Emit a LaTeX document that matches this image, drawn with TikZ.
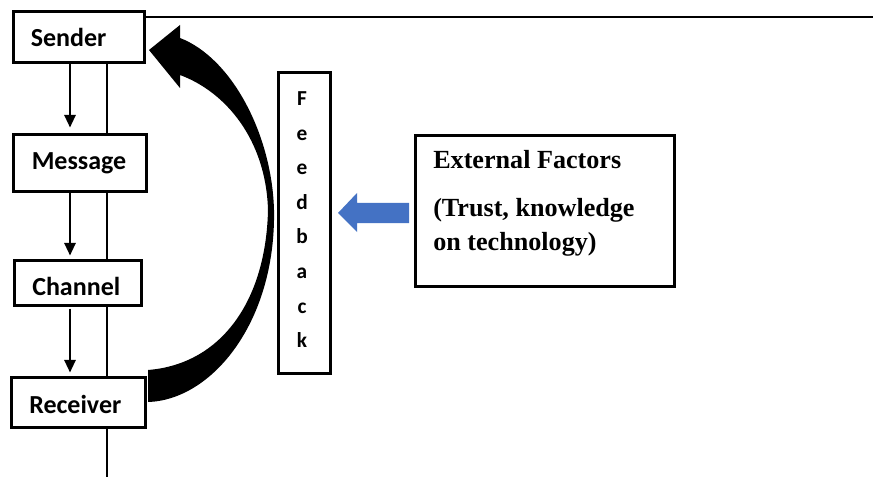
\documentclass[tikz,border=0pt]{standalone}
\usepackage{fontspec}
\newfontfamily\calfont{Carlito}
\newfontfamily\serfont{Liberation Serif}
\usetikzlibrary{arrows.meta}
\newdimen\px \px=0.75pt
\definecolor{arrowblue}{HTML}{4472C4}
\tikzset{
  box/.style={draw=black, line width=2.25pt, fill=white, inner sep=0pt, outer sep=0pt},
  lbl/.style={font=\calfont\bfseries\fontsize{19.5pt}{23pt}\selectfont, inner sep=0pt, anchor=base west},
  fbl/.style={font=\calfont\bfseries\fontsize{16pt}{19pt}\selectfont, inner sep=0pt, anchor=base},
  ext/.style={font=\serfont\bfseries\fontsize{19.6pt}{23pt}\selectfont, inner sep=0pt, anchor=base west},
  flow/.style={line width=1.5pt, -{Triangle[length=9.5pt,width=8.5pt]}},
  thinline/.style={line width=0.8pt}
}
\begin{document}
\begin{tikzpicture}[x=0.75pt, y=-0.75pt]
\useasboundingbox (0,0) rectangle (873,477);
\fill[white] (0,0) rectangle (873,477);
% guide coordinates
\coordinate (ax) at (70,0);
\coordinate (vbot) at (107,477);
\coordinate (topend) at (873,17);
\coordinate (sendtop) at (107,64);
% vertical line behind boxes
\draw[thinline] (sendtop) -- (vbot);
% boxes
\node[box, minimum width=131\px, minimum height=51\px] (sender) at (79,37) {};
\node[box, minimum width=133\px, minimum height=57\px] (message) at (80,163) {};
\node[box, minimum width=127\px, minimum height=45\px] (channel) at (78,283) {};
\node[box, minimum width=134\px, minimum height=50\px] (receiver) at (78.5,402.5) {};
\node[box, minimum width=52\px, minimum height=301\px] (feedback) at (304.5,223) {};
\node[box, minimum width=259\px, minimum height=151\px] (external) at (545,211) {};
% top line
\draw[thinline] (sender.east |- topend) -- (topend);
% labels
\node[lbl] (tsender) at (30.5,47) {Sender};
\node[lbl] (tmessage) at (31.5,170) {Message};
\node[lbl] (tchannel) at (32,295) {Channel};
\node[lbl] (treceiver) at (29,413) {Receiver};
\foreach \l [count=\i] in {F,e,e,d,b,a,c,k}{
  \node[fbl] (fb\i) at (302,{105.5+34.6*(\i-1)}) {\l};
}
\node[ext] (e1) at (433,169) {External Factors};
\node[ext] (e2) at (433,217) {(Trust, knowledge};
\node[ext] (e3) at (433,250) {on technology)};
% flow arrows
\draw[flow, shorten <=1.5\px, shorten >=7\px] (sender.south -| ax) -- (message.north -| ax);
\draw[flow, shorten <=2\px, shorten >=5\px] (message.south -| ax) -- (channel.north -| ax);
\draw[flow, shorten <=3\px, shorten >=5\px] (channel.south -| ax) -- (receiver.north -| ax);
% big curved feedback arrow
\fill[black] (149,50) -- (180,25) -- (180,38)
  .. controls (232,58) and (272,135) .. (274,210)
  .. controls (276,322) and (212,400) .. (148,402)
  -- (148,370)
  .. controls (222,364) and (266,300) .. (268,210)
  .. controls (266,140) and (226,92) .. (180,75)
  -- (180,88) -- cycle;
% blue block arrow
\fill[arrowblue] (338,213) -- (357,193) -- (357,203) -- (409,203) -- (409,223) -- (357,223) -- (357,232) -- cycle;
\end{tikzpicture}
\end{document}
